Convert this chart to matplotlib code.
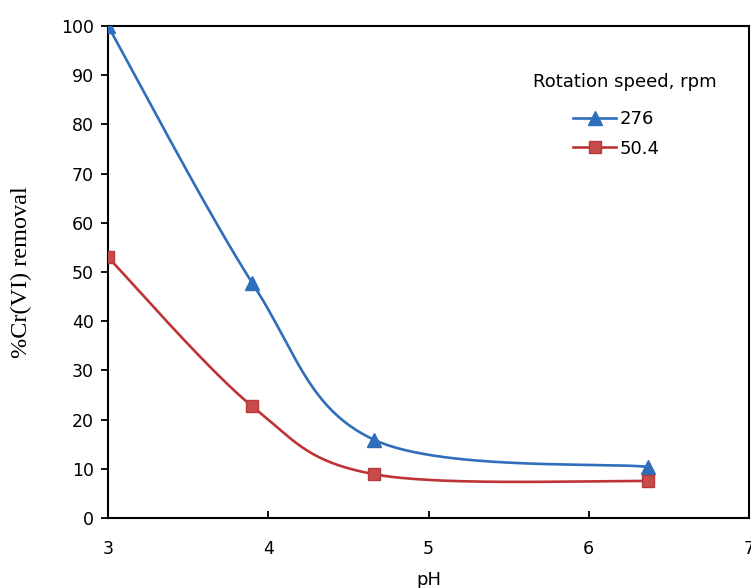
import numpy as np
import matplotlib.pyplot as plt

# pH and %Cr(VI) removal for the two rotation speeds
ph = [3.0, 3.9, 4.66, 6.37]
removal_276 = [100.0, 47.8, 15.9, 10.4]
removal_504 = [53.0, 22.7, 8.9, 7.5]
series_labels = ['276', '50.4']


def smooth(x, y, n=60):
    # Catmull-Rom style bezier through the points (like spreadsheet "smoothed line")
    x = np.asarray(x, float)
    y = np.asarray(y, float)
    p = np.column_stack([x, y])
    p = np.vstack([p[0], p, p[-1]])
    out = []
    t = np.linspace(0, 1, n)[:, None]
    for i in range(1, len(p) - 2):
        p0, p1, p2, p3 = p[i - 1], p[i], p[i + 1], p[i + 2]
        c1 = p1 + (p2 - p0) / 6.0
        c2 = p2 - (p3 - p1) / 6.0
        seg = ((1 - t) ** 3) * p1 + 3 * ((1 - t) ** 2) * t * c1 + 3 * (1 - t) * t ** 2 * c2 + t ** 3 * p2
        out.append(seg if i == 1 else seg[1:])
    out = np.vstack(out)
    return out[:, 0], out[:, 1]


fig = plt.figure(figsize=(7.51, 5.88), dpi=100)
ax = fig.add_axes([108 / 751, 70 / 588, 641 / 751, 492 / 588])

blue = '#2F6EBA'
red = '#BE3434'

sx, sy = smooth(ph, removal_276)
ax.plot(sx, sy, color=blue, lw=1.9, zorder=2)
ax.plot(ph, removal_276, ls='none', marker='^', ms=9.5, color=blue, zorder=3)
sx, sy = smooth(ph, removal_504)
ax.plot(sx, sy, color=red, lw=1.9, zorder=2)
ax.plot(ph, removal_504, ls='none', marker='s', ms=9, mfc='#C64B4B', mec='#B83A3A', zorder=3)

# legend: title as a separate text, entries below it
h1, = ax.plot([], [], color=blue, lw=1.9, marker='^', ms=9.5)
h2, = ax.plot([], [], color=red, lw=1.9, marker='s', ms=9, mfc='#C64B4B', mec='#B83A3A')
fig.text(533 / 751, 1 - 82 / 588, 'Rotation speed, rpm', fontsize=13, va='center', ha='left')
ax.legend([h1, h2], series_labels, frameon=False,
          loc='upper left', bbox_to_anchor=(573 / 751, 1 - 110 / 588),
          bbox_transform=fig.transFigure, fontsize=13,
          handlelength=2.4, labelspacing=0.65,
          handletextpad=0.2, borderpad=0, borderaxespad=0)

ax.set_xlim(3, 7)
ax.set_ylim(0, 100)
ax.set_xticks([3, 4, 5, 6, 7])
ax.set_yticks(range(0, 101, 10))
ax.tick_params(axis='x', direction='in', length=5, width=1.3, labelsize=12.5, pad=16)
ax.tick_params(axis='y', direction='out', length=5, width=1.3, labelsize=12.5, pad=5)
for s in ax.spines.values():
    s.set_linewidth(1.5)
    s.set_clip_on(False)

ax.set_xlabel('pH', fontsize=13, labelpad=9)
ax.set_ylabel('%Cr(VI) removal', fontsize=17.5, family='Liberation Serif', labelpad=21)

fig.savefig('out.png', dpi=100)
